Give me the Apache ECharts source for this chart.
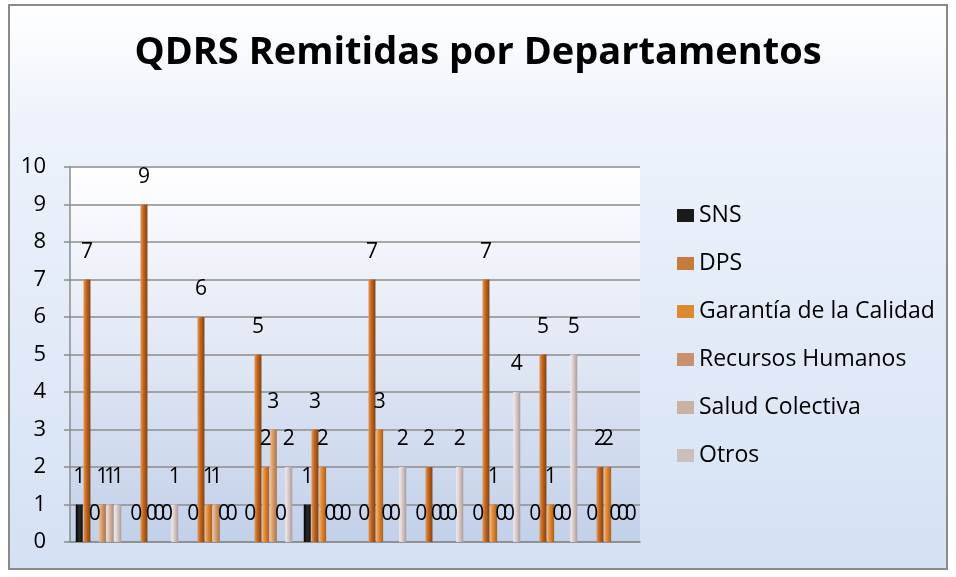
<!DOCTYPE html>
<html><head><meta charset="utf-8">
<script src="https://cdn.jsdelivr.net/npm/echarts@6/dist/echarts.min.js"></script>
<style>html,body{margin:0;padding:0;background:#fff}#c{width:956px;height:577px}</style>
</head><body><div id="c"></div>
<script>
const titleText = 'QDRS Remitidas por Departamentos';
const categories = ['1','2','3','4','5','6','7','8','9','10'];
const seriesNames = ['SNS','DPS','Garantía de la Calidad','Recursos Humanos','Salud Colectiva','Otros'];
const sns       = [1,0,0,0,1,0,0,0,0,0];
const dps       = [7,9,6,5,3,7,2,7,5,2];
const garantia  = [0,0,1,2,2,3,0,1,1,2];
const recursos  = [1,0,1,3,0,0,0,0,0,0];
const salud     = [1,0,0,0,0,0,0,0,0,0];
const otros     = [1,1,0,2,0,2,2,4,5,0];
const yMin = 0, yMax = 10, yStep = 1;

const allValues = [sns, dps, garantia, recursos, salud, otros];
const G = echarts.graphic.LinearGradient;
const barColors = [
  new G(0,0,1,0,[{offset:0,color:'#000000'},{offset:0.5,color:'#2a2a2a'},{offset:1,color:'#111111'}]),
  new G(0,0,1,0,[{offset:0,color:'#e29a58'},{offset:0.45,color:'#c2621c'},{offset:1,color:'#7e4414'}]),
  new G(0,0,1,0,[{offset:0,color:'#f4b070'},{offset:0.45,color:'#de842e'},{offset:1,color:'#a8601e'}]),
  new G(0,0,1,0,[{offset:0,color:'#f0c49c'},{offset:0.45,color:'#d69a68'},{offset:1,color:'#a8764e'}]),
  new G(0,0,1,0,[{offset:0,color:'#f4e2d6'},{offset:0.45,color:'#d8b8a4'},{offset:1,color:'#a88c7c'}]),
  new G(0,0,1,0,[{offset:0,color:'#f4ecec'},{offset:0.45,color:'#d8cac8'},{offset:1,color:'#aa9c9a'}])
];
const legendColors = ['#1a1a1a','#c87a3a','#dc8a30','#c8906c','#c8b2a4','#cabfbc'];

const font = '"Open Sans", Lato, sans-serif';
const chart = echarts.init(document.getElementById('c'));
chart.setOption({
  animation: false,
  textStyle: {fontFamily: font},
  graphic: [{
    type: 'rect', z: -10, silent: true,
    shape: {x: 9, y: 5, width: 938, height: 564},
    style: {
      fill: new G(0,0,0,1,[{offset:0,color:'#ffffff'},{offset:0.2,color:'#eef3fb'},{offset:1,color:'#d4e1f4'}]),
      stroke: '#8a8a8a', lineWidth: 2
    }
  }],
  title: {
    text: titleText, left: 'center', top: 29,
    textStyle: {fontSize: 38, fontWeight: 'bold', color: '#000', fontFamily: font}
  },
  legend: {
    orient: 'vertical', left: 672, top: 199,
    itemWidth: 17, itemHeight: 13, itemGap: 25,
    icon: 'rect',
    textStyle: {fontSize: 23, color: '#000', fontFamily: font},
    data: seriesNames.map((n, i) => ({name: n, itemStyle: {color: legendColors[i]}}))
  },
  grid: {
    left: 70, right: 316, top: 167, bottom: 35,
    show: true, borderWidth: 0,
    backgroundColor: new G(0,0,0,1,[{offset:0,color:'#ffffff'},{offset:0.2,color:'#f3f5fb'},{offset:1,color:'#c2d0e9'}])
  },
  xAxis: {
    type: 'category', data: categories,
    axisLine: {show: true, lineStyle: {color: '#8c8c8c', width: 1.5}},
    axisTick: {show: false}, axisLabel: {show: false}
  },
  yAxis: {
    type: 'value', min: yMin, max: yMax, interval: yStep,
    axisLine: {show: true, lineStyle: {color: '#8c8c8c', width: 1.5}},
    axisTick: {show: true, length: 6, lineStyle: {color: '#8c8c8c', width: 1.5}},
    axisLabel: {fontSize: 22, color: '#000', margin: 24, fontFamily: font},
    splitLine: {lineStyle: {color: '#8c8c8c', width: 1.5}}
  },
  series: seriesNames.map((n, i) => ({
    name: n, type: 'bar', data: allValues[i],
    barWidth: 7, barGap: '10%',
    itemStyle: {color: barColors[i]},
    label: {show: true, position: 'top', distance: 17, fontSize: 21, color: '#000', fontFamily: font}
  }))
});
</script></body></html>
